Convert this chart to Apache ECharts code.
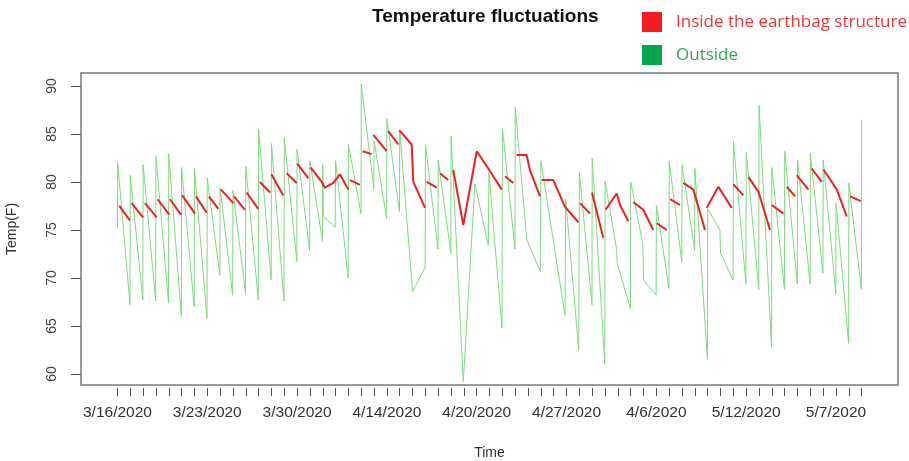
<!DOCTYPE html>
<html>
<head>
<meta charset="utf-8">
<script src="https://cdn.jsdelivr.net/npm/echarts@6/dist/echarts.min.js"></script>
<style>
html,body{margin:0;padding:0;background:#fff;}
#chart{width:909px;height:461px;}
</style>
</head>
<body>
<div id="chart"></div>
<script>
// ---- data ----
const xTickLabels = ['3/16/2020','3/23/2020','3/30/2020','4/14/2020','4/20/2020','4/27/2020','4/6/2020','5/12/2020','5/7/2020'];
const xLabelDays = [0,7,14,21,28,35,42,49,56];
const xTickDays = [0,1,2,3,4,5,6,7,8,9,10,11,12,13,14,15,16,17,18,19,20,21,22,23,24,25,26,27,28,29,30,31,32,33,34,35,36,37,38,39,40,41,42,43,44,45,46,47,48,49,50,51,52,53,54,55,56,57,58];
const yTicks = [60,65,70,75,80,85,90];

// Outside temperature: time (day index) and value (F)
const outsideDay = [0,0.02,0.98,1,1.98,2,2.98,3,3.98,4,4.98,5,5.98,6,6.98,7,7.98,8,8.98,9,9.98,10,10.98,11,11.98,12,12.98,13,13.98,14,14.98,15,
15.98,16,16.05,16.97,17,17.98,18,18.98,19,19.98,20,20.98,21,21.98,22,23,23.98,24,24.98,25,25.98,26,26.95,27.86,28.9,28.95,29.97,30,30.98,31,
31.9,32.95,33,34.88,34.93,35.95,36,36.98,37,37.98,38,38.9,38.95,39.98,40,40.95,41,41.98,42,42.98,43,43.98,44,44.98,45,45.98,46,46.95,47,
47.98,48,48.98,49,49.98,50,50.98,51,51.98,52,52.98,53,53.98,54,54.98,55,55.98,56,56.98,57,57.98,58];
const outsideTemp = [75.2,82.0,67.2,80.7,67.7,81.8,67.6,82.7,67.4,82.9,66.0,81.5,67.0,81.4,65.8,80.4,70.3,79.4,68.2,79.1,68.4,81.6,67.7,85.5,69.8,84.0,67.6,84.6,71.7,83.4,72.8,82.2,
73.8,81.8,76.4,75.3,82.2,70.0,83.9,76.7,90.2,79.3,84.3,76.2,86.6,76.9,85.4,68.6,71.1,83.9,73.0,82.3,72.6,84.8,59.2,79.8,73.4,81.0,64.8,85.6,73.0,87.8,
74.0,70.7,82.2,66.1,78.2,62.5,81.0,67.2,82.5,61.0,80.1,73.0,71.5,66.8,80.0,73.5,69.8,68.2,77.6,68.9,82.2,71.7,81.8,72.9,81.4,61.5,77.2,75.0,72.6,
69.8,84.3,69.4,83.1,68.8,88.0,62.8,81.5,68.8,83.2,69.4,82.3,69.4,83.0,70.5,82.3,68.4,77.8,63.2,79.9,68.8,86.5];

// Inside temperature: null marks a break in the recorded line
const insideDay = [0.14,0.97,null,1.1,2.0,null,2.14,3.06,null,3.13,4.04,null,4.09,4.95,null,5.05,6.04,null,6.12,6.95,null,7.13,7.86,null,
8.07,9.03,null,9.08,9.94,null,10.07,10.97,null,11.1,11.9,null,12.0,12.92,null,13.19,13.97,null,14.01,14.87,null,
15.06,15.92,16.17,16.82,17.34,17.99,null,18.12,18.9,null,19.11,19.81,null,19.94,20.98,null,21.1,21.89,null,
21.96,22.93,23.06,23.97,null,24.1,24.88,null,25.14,25.78,null,26.17,26.95,28.0,28.9,29.95,null,30.2,30.85,null,
31.11,31.89,32.15,32.93,null,33.06,33.97,34.88,35.92,null,36.05,36.83,null,36.98,37.86,null,38.04,38.91,39.17,39.81,null,
40.2,40.98,41.76,null,42.03,42.81,null,43.06,43.84,null,44.1,44.88,45.01,45.79,null,45.92,46.83,47.87,null,48.0,48.78,null,
49.17,49.95,50.86,null,50.99,51.9,null,52.16,52.81,null,52.94,53.85,null,54.1,54.89,null,55.02,56.06,56.84,null,57.1,57.93];
const insideTemp = [77.5,76.0,null,77.8,76.3,null,77.8,76.3,null,78.2,76.6,null,78.2,76.6,null,78.6,76.7,null,78.5,76.8,null,78.5,77.2,null,
79.2,77.8,null,78.5,77.1,null,78.9,77.2,null,80.0,78.9,null,80.8,78.6,null,80.9,79.9,null,81.9,80.4,null,
81.5,80.0,79.4,79.9,80.8,79.2,null,80.2,79.7,null,83.2,82.9,null,84.9,83.2,null,85.3,83.9,null,
85.4,83.9,80.0,77.3,null,80.0,79.4,null,80.9,80.2,null,81.25,75.5,83.2,81.4,79.2,null,80.6,79.9,null,
82.8,82.8,81.2,78.5,null,80.2,80.2,77.4,75.8,null,77.8,76.7,null,78.9,74.2,null,77.1,78.8,77.6,75.9,null,
77.9,77.1,75.0,null,75.7,75.0,null,78.2,77.6,null,79.9,79.2,79.2,75.0,null,77.3,79.5,77.3,null,79.75,78.6,null,
80.5,79.0,75.0,null,77.6,76.7,null,79.5,78.5,null,80.7,79.2,null,81.4,80.0,null,81.3,79.2,76.4,null,78.5,78.0];

const seriesNames = ['Inside the earthbag structure','Outside'];

// ---- build chart ----
// x axis counted so that its zero is the left edge of the plot box (the y axis sits on zero)
const leadDays = 2.84;
const X = d => d + leadDays;
const outsideData = outsideDay.map((d,i)=>[X(d), outsideTemp[i]]);
const insideData = insideDay.map((d,i)=> d===null ? ['-','-'] : [X(d), insideTemp[i]]);
const xMin = 0, xMax = X(60.83);

const chart = echarts.init(document.getElementById('chart'), null, {renderer:'canvas'});
chart.setOption({
  animation:false,
  backgroundColor:'#ffffff',
  title:{
    text:'Temperature fluctuations',
    left:372, top:7, padding:0,
    textStyle:{fontFamily:'Liberation Sans, Arial, sans-serif', fontWeight:'bold', fontSize:19, color:'#111'}
  },
  legend:{
    orient:'vertical', left:642, top:12, padding:0,
    itemWidth:20, itemHeight:20, itemGap:13,
    icon:'rect',
    data:[
      {name:seriesNames[0], itemStyle:{color:'#f21c22'}, textStyle:{color:'#f0343a'}},
      {name:seriesNames[1], itemStyle:{color:'#0aa54a'}, textStyle:{color:'#34a853'}}
    ],
    textStyle:{fontFamily:'Open Sans, Noto Sans, sans-serif', fontSize:17, padding:[0,0,0,9]}
  },
  grid:{left:81, right:11, top:73, bottom:76, outerBoundsMode:'none', show:true, borderColor:'#7a7a7a', borderWidth:1.5, backgroundColor:'transparent'},
  xAxis:{
    type:'value', min:xMin, max:xMax, offset:3,
    axisLine:{show:false, onZero:false},
    splitLine:{show:false},
    axisTick:{show:true, customValues:xTickDays.map(X), length:8, lineStyle:{color:'#555', width:1}},
    axisLabel:{customValues:xLabelDays.map(X), margin:17, color:'#333', fontSize:15.5,
      fontFamily:'Liberation Sans, Arial, sans-serif',
      formatter:function(v){ const k = xLabelDays.indexOf(Math.round(v - leadDays)); return k>=0 ? xTickLabels[k] : ''; }},
    name:'Time', nameLocation:'middle', nameGap:58,
    nameTextStyle:{fontFamily:'Liberation Sans, Arial, sans-serif', fontSize:14, color:'#333'}
  },
  yAxis:{
    type:'value', min:58.85, max:91.35,
    axisLine:{show:false, onZero:true},
    splitLine:{show:false},
    axisTick:{show:true, customValues:yTicks, length:10, lineStyle:{color:'#555', width:1}},
    axisLabel:{customValues:yTicks, rotate:90, margin:22, color:'#444', fontSize:14,
      fontFamily:'Liberation Sans, Arial, sans-serif'},
    name:'Temp(F)', nameLocation:'middle', nameGap:62, nameRotate:90,
    nameTextStyle:{fontFamily:'Liberation Sans, Arial, sans-serif', fontSize:14, color:'#333'}
  },
  series:[
    {name:seriesNames[1], type:'line', data:outsideData, showSymbol:false, symbol:'none',
      lineStyle:{color:'#7ddc7d', width:1}, itemStyle:{color:'#0aa54a'}, z:2},
    {name:seriesNames[0], type:'line', data:insideData, showSymbol:false, symbol:'none', connectNulls:false,
      lineStyle:{color:'#f02020', width:2}, itemStyle:{color:'#f21c22'}, z:3}
  ]
});
</script>
</body>
</html>
